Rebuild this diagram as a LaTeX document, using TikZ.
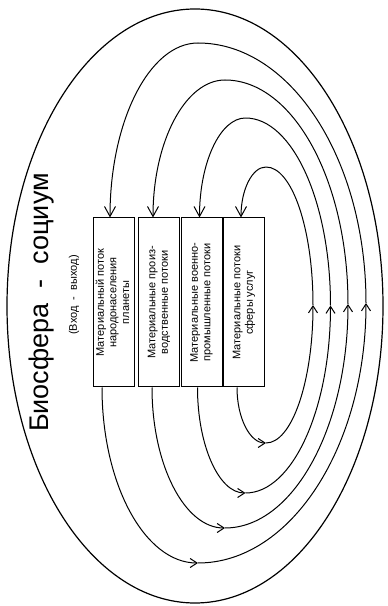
\documentclass[tikz,border=0pt]{standalone}
\usepackage{fontspec}
\setmainfont{Liberation Sans}
\usepackage{graphicx}
\usetikzlibrary{arrows.meta,positioning}
\newcommand{\vlines}[1]{\rotatebox{90}{\begin{tabular}{@{}c@{}}#1\end{tabular}}}

\begin{document}
\begin{tikzpicture}[x=1pt,y=1pt,
  box/.style={draw,line width=1pt,minimum width=41pt,minimum height=169pt,inner sep=0pt,font=\fontsize{11}{12.5}\selectfont},
  flow/.style={line width=1pt},
  tip/.style={-{Straight Barb[length=7pt,width=9pt]}},
  tipin/.style={{Straight Barb[length=10pt,width=11pt]}-}]
  \useasboundingbox (0,0) rectangle (388,606);
  \draw[line width=1.2pt] (195,300) ellipse[x radius=188pt,y radius=297pt];
  \node[rotate=90,font=\fontsize{27}{30}\selectfont] (title) at (42,303.5) {Биосфера\ \ -\ \ социум};
  \node[rotate=90,font=\fontsize{11}{13}\selectfont] (io) at (74,311) {(Вход\ \ -\ \ выход)};
  \node[box] (b1) at (114,303.5) {\vlines{Материальный поток\\народонаселения\\планеты}};
  \node[box,right=3pt of b1] (b2) {\vlines{Материальные произ-\\водственные потоки}};
  \node[box,right=0.5pt of b2] (b3) {\vlines{Материальные военно-\\промышленные потоки}};
  \node[box,right=0.5pt of b3] (b4) {\vlines{Материальные потоки\\сферы услуг}};
  % loop 1
  \draw[flow,tip] ([xshift=-12pt]b1.south) arc[start angle=180,end angle=270,x radius=96pt,y radius=175.5pt] coordinate (l1s);
  \draw[flow,tip] (l1s) arc[start angle=270,end angle=360,x radius=168pt,y radius=260pt] coordinate (l1e);
  \draw[flow] (l1e) arc[start angle=0,end angle=90,x radius=168pt,y radius=260pt];
  \draw[flow,tipin] ([xshift=-4pt]b1.north) arc[start angle=180,end angle=90,x radius=88pt,y radius=174.5pt];
  % loop 2
  \draw[flow,tip] ([xshift=-7pt]b2.south) arc[start angle=180,end angle=270,x radius=73pt,y radius=140.5pt] coordinate (l2s);
  \draw[flow,tip] (l2s) arc[start angle=270,end angle=360,x radius=123pt,y radius=224pt] coordinate (l2e);
  \draw[flow] (l2e) arc[start angle=0,end angle=90,x radius=123pt,y radius=224pt];
  \draw[flow,tipin] ([xshift=-6pt]b2.north) arc[start angle=180,end angle=90,x radius=72pt,y radius=137.5pt];
  % loop 3
  \draw[flow,tip] ([xshift=-4pt]b3.south) arc[start angle=180,end angle=270,x radius=48pt,y radius=105.5pt] coordinate (l3s);
  \draw[flow,tip] (l3s) arc[start angle=270,end angle=360,x radius=85pt,y radius=187.5pt] coordinate (l3e);
  \draw[flow] (l3e) arc[start angle=0,end angle=90,x radius=85pt,y radius=187.5pt];
  \draw[flow,tipin] ([xshift=-2pt]b3.north) arc[start angle=180,end angle=90,x radius=46pt,y radius=99.5pt];
  % loop 4
  \draw[flow,tip] ([xshift=-7pt]b4.south) arc[start angle=180,end angle=270,x radius=29pt,y radius=55.5pt] coordinate (l4s);
  \draw[flow,tip] (l4s) arc[start angle=270,end angle=360,x radius=47pt,y radius=138pt] coordinate (l4e);
  \draw[flow] (l4e) arc[start angle=0,end angle=90,x radius=47pt,y radius=138pt];
  \draw[flow,tipin] ([xshift=-3pt]b4.north) arc[start angle=180,end angle=90,x radius=25pt,y radius=50.5pt];
\end{tikzpicture}
\end{document}
